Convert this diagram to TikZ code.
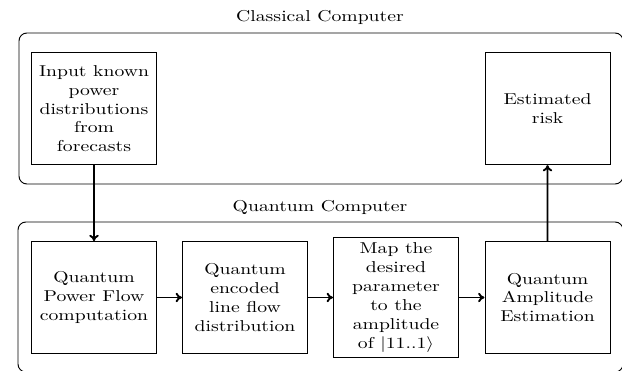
\documentclass[tikz,border=0pt]{standalone}
\usetikzlibrary{arrows.meta}
\begin{document}
\begin{tikzpicture}[x=0.635pt,y=-0.635pt,
  blk/.style={draw, line width=0.5pt, xscale=1.25, text width=2cm, align=center, minimum height=2.5cm, inner sep=3.33pt},
  ttl/.style={xscale=1.25, inner sep=0pt},
  grp/.style={draw, line width=0.6pt, rounded corners=5pt},
  arr/.style={-{To[length=4pt,width=6pt]}, line width=1.2pt}]
\useasboundingbox (0,0) rectangle (622,371);
\draw[grp] (19,33) rectangle (623,184);
\draw[grp] (18,222) rectangle (623,372);
\node[ttl] (tc) at (320,17) {Classical Computer};
\node[ttl] (tq) at (320,207) {Quantum Computer};
\node[blk] (inp) at (94,108.7) {Input known power distributions from forecasts};
\node[blk] (est) at (547.5,108.7) {Estimated risk};
\node[blk] (q1) at (94,297.5) {Quantum Power Flow computation};
\node[blk] (q2) at (245,297.5) {Quantum encoded line flow distribution};
\node[blk] (q3) at (396,297.5) {Map the desired parameter to the amplitude of $|11..1\rangle$};
\node[blk] (q4) at (547.5,297.5) {Quantum Amplitude Estimation};
\draw[arr] (inp) -- (q1);
\draw[arr] (q1) -- (q2);
\draw[arr] (q2) -- (q3);
\draw[arr] (q3) -- (q4);
\draw[arr] (q4) -- (est);
\end{tikzpicture}
\end{document}
